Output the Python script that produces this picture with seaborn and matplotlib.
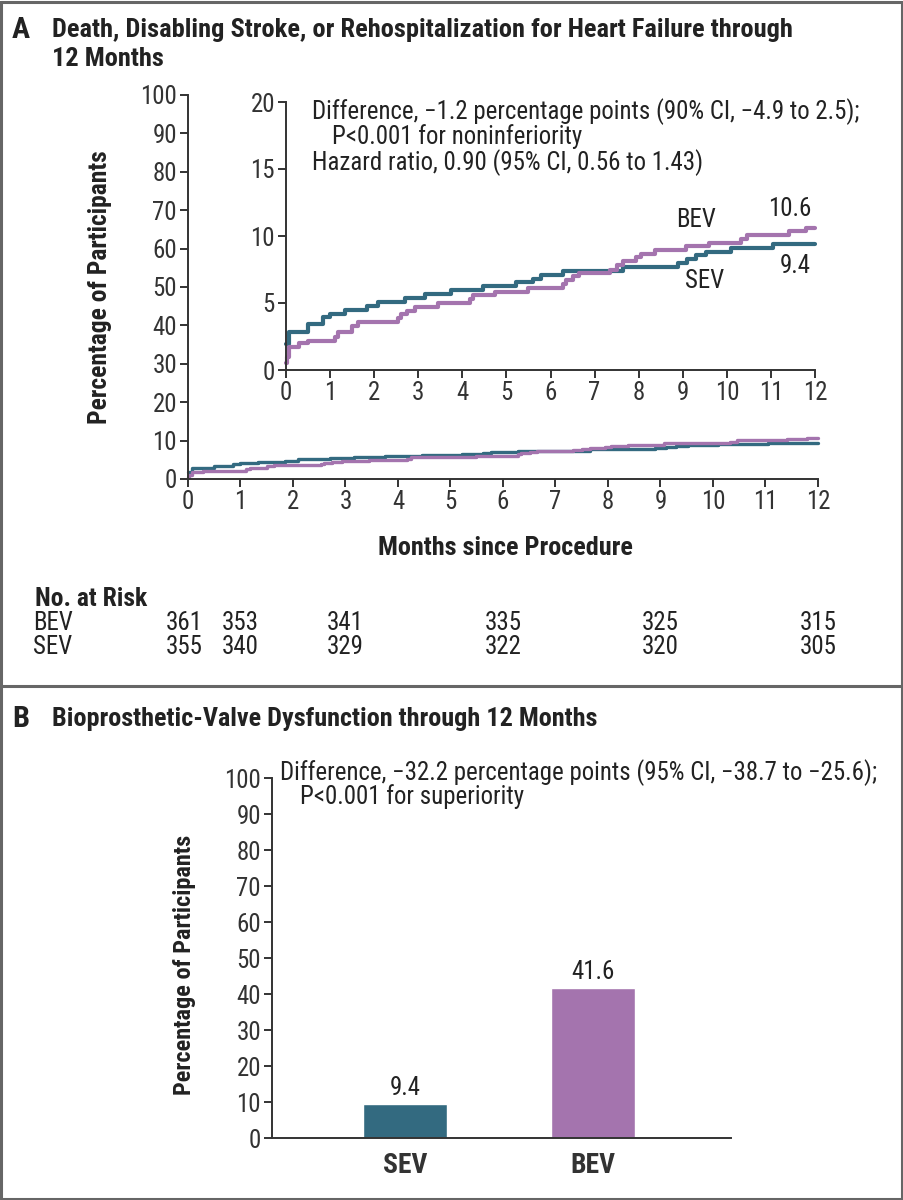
import matplotlib
matplotlib.use("Agg")
import matplotlib.pyplot as plt
import seaborn as sns
import pandas as pd
from matplotlib.lines import Line2D

# ---------------- data ----------------
sev_months = [0, 0.07, 0.5, 0.85, 1.0, 1.34, 1.84, 2.09, 2.7, 3.16, 3.75, 4.46, 5.22,
              5.61, 5.78, 6.29, 7.65, 8.9, 9.1, 9.29, 9.52, 10.1, 11.04, 12]
sev_pct = [1.95, 2.8, 3.4, 3.95, 4.2, 4.5, 4.8, 5.1, 5.4, 5.65, 5.95, 6.25, 6.55,
           6.8, 7.1, 7.4, 7.7, 8.0, 8.3, 8.55, 8.8, 9.1, 9.4, 9.4]
bev_months = [0, 0.02, 0.07, 0.29, 0.5, 1.11, 1.19, 1.5, 1.63, 2.54, 2.6, 2.75, 2.93,
              3.45, 4.18, 4.25, 4.74, 5.48, 6.29, 6.35, 6.52, 6.65, 7.34, 7.5, 7.65,
              7.95, 8.06, 8.38, 9.07, 9.6, 10.33, 10.46, 11.41, 11.8, 12]
bev_pct = [0.5, 1.0, 1.7, 2.0, 2.2, 2.5, 2.8, 3.3, 3.6, 3.9, 4.2, 4.4, 4.7,
           5.0, 5.3, 5.6, 5.85, 6.1, 6.4, 6.7, 7.0, 7.25, 7.5, 7.8, 8.1,
           8.4, 8.65, 8.95, 9.25, 9.5, 9.75, 10.05, 10.35, 10.6, 10.6]

risk_months = [0, 1, 3, 6, 9, 12]
risk_bev = [361, 353, 341, 335, 325, 315]
risk_sev = [355, 340, 329, 322, 320, 305]

bar_groups = ["SEV", "BEV"]
bar_values = [9.4, 41.6]

SEV_C = "#336A80"
BEV_C = "#A474AE"
AX_C = "#333333"

# ---------------- style ----------------
sns.set_theme(style="white")
plt.rcParams["font.family"] = ["Liberation Sans Narrow", "DejaVu Sans Condensed",
                               "Roboto Condensed", "Lato", "DejaVu Sans"]
plt.rcParams["axes.edgecolor"] = AX_C
plt.rcParams["xtick.color"] = AX_C
plt.rcParams["ytick.color"] = AX_C
plt.rcParams["text.color"] = "#222222"

W, H = 904, 1200
fig = plt.figure(figsize=(W / 100, H / 100), dpi=100)
fig.patch.set_facecolor("white")
renderer = fig.canvas.get_renderer()


def fx(x):
    return x / W


def fy(y):
    return 1 - y / H


def box(l, t, r, b):
    return [fx(l), fy(b), fx(r) - fx(l), fy(t) - fy(b)]


def fit_size(s, target_px, weight="normal"):
    t = fig.text(0, 0, s, fontsize=20, fontweight=weight)
    w = t.get_window_extent(renderer).width
    t.remove()
    return 20 * target_px / w


# font sizes fitted to the reference text widths
AFS = fit_size("Difference, \u22121.2 percentage points (90% CI, \u22124.9 to 2.5);", 548)
TFS = fit_size("Death, Disabling Stroke, or Rehospitalization for Heart Failure through", 738, "bold")
BFS = fit_size("Bioprosthetic-Valve Dysfunction through 12 Months", 545, "bold")
YFS = fit_size("Percentage of Participants", 272, "bold")
XFS = fit_size("Months since Procedure", 255, "bold")
NFS = fit_size("No. at Risk", 112, "bold")
TICK_FS = AFS * 1.0

km = pd.concat([
    pd.DataFrame({"month": sev_months, "pct": sev_pct, "group": "SEV"}),
    pd.DataFrame({"month": bev_months, "pct": bev_pct, "group": "BEV"}),
])
palette = {"SEV": SEV_C, "BEV": BEV_C}


def style_axes(ax):
    sns.despine(ax=ax)
    for s in ("left", "bottom"):
        ax.spines[s].set_linewidth(1.4)
        ax.spines[s].set_color(AX_C)
    ax.tick_params(axis="both", direction="out", length=6, width=1.4,
                   labelsize=TICK_FS, pad=2, left=True, bottom=True)
    ax.set_facecolor("white")


# ---------------- Panel A main ----------------
axA = fig.add_axes(box(188, 95, 818, 479))
sns.lineplot(data=km, x="month", y="pct", hue="group", palette=palette,
             estimator=None, drawstyle="steps-post", linewidth=2.4,
             legend=False, ax=axA)
axA.set_xlim(0, 12)
axA.set_ylim(0, 100)
axA.set_xticks(range(0, 13))
axA.set_yticks(range(0, 101, 10))
axA.set_xlabel("")
axA.set_ylabel("")
style_axes(axA)
for ln in axA.get_lines():
    ln.set_clip_on(False)

# ---------------- Panel A inset ----------------
axI = fig.add_axes(box(286, 102, 815, 370))
sns.lineplot(data=km, x="month", y="pct", hue="group", palette=palette,
             estimator=None, drawstyle="steps-post", linewidth=3.0,
             legend=False, ax=axI)
axI.set_xlim(0, 12)
axI.set_ylim(0, 20)
axI.set_xticks(range(0, 13))
axI.set_yticks(range(0, 21, 5))
axI.set_xlabel("")
axI.set_ylabel("")
style_axes(axI)
for ln in axI.get_lines():
    ln.set_clip_on(False)

fig.text(fx(312), fy(112), "Difference, \u22121.2 percentage points (90% CI, \u22124.9 to 2.5);",
         fontsize=AFS, va="center", ha="left")
fig.text(fx(332), fy(137), "P<0.001 for noninferiority",
         fontsize=AFS, va="center", ha="left")
fig.text(fx(312), fy(163), "Hazard ratio, 0.90 (95% CI, 0.56 to 1.43)",
         fontsize=AFS, va="center", ha="left")
fig.text(fx(696), fy(220), "BEV", fontsize=AFS, ha="center", va="center")
fig.text(fx(790), fy(209), "10.6", fontsize=AFS, ha="center", va="center")
fig.text(fx(705), fy(281), "SEV", fontsize=AFS, ha="center", va="center")
fig.text(fx(795), fy(266), "9.4", fontsize=AFS, ha="center", va="center")

# titles / labels panel A
fig.text(fx(12), fy(30), "A", fontsize=TFS * 1.15, fontweight="bold", va="center", ha="left")
fig.text(fx(52), fy(30), "Death, Disabling Stroke, or Rehospitalization for Heart Failure through",
         fontsize=TFS, fontweight="bold", va="center", ha="left")
fig.text(fx(52), fy(59), "12 Months", fontsize=TFS, fontweight="bold", va="center", ha="left")
fig.text(fx(100), fy(287), "Percentage of Participants", fontsize=YFS, fontweight="bold",
         rotation=90, va="center", ha="center")
fig.text(fx(505), fy(548), "Months since Procedure", fontsize=XFS, fontweight="bold",
         va="center", ha="center")

# number at risk
fig.text(fx(35), fy(599), "No. at Risk", fontsize=NFS, fontweight="bold", va="center", ha="left")
fig.text(fx(33), fy(623), "BEV", fontsize=AFS, va="center", ha="left")
fig.text(fx(33), fy(647), "SEV", fontsize=AFS, va="center", ha="left")
for m, b, s in zip(risk_months, risk_bev, risk_sev):
    xpix = 188 + (818 - 188) * m / 12
    if m == 0:
        xpix -= 4
    fig.text(fx(xpix), fy(623), str(b), fontsize=AFS, va="center", ha="center")
    fig.text(fx(xpix), fy(647), str(s), fontsize=AFS, va="center", ha="center")

# ---------------- Panel B ----------------
axB = fig.add_axes(box(272, 778, 731, 1138))
bars = pd.DataFrame({"group": bar_groups, "value": bar_values})
sns.barplot(data=bars, x="group", y="value", hue="group", palette=palette,
            order=bar_groups, width=0.45, legend=False, saturation=1, ax=axB)
axB.set_xlim(-0.707, 1.734)
axB.set_ylim(0, 100)
axB.set_yticks(range(0, 101, 10))
axB.set_xlabel("")
axB.set_ylabel("")
style_axes(axB)
axB.tick_params(axis="x", length=0, pad=10)
for lab in axB.get_xticklabels():
    lab.set_fontweight("bold")
    lab.set_fontsize(BFS * 1.05)
for cont in axB.containers:
    axB.bar_label(cont, labels=[f"{v.get_height():.1f}" for v in cont],
                  padding=3, fontsize=AFS)

fig.text(fx(12), fy(719), "B", fontsize=TFS * 1.15, fontweight="bold", va="center", ha="left")
fig.text(fx(52), fy(719), "Bioprosthetic-Valve Dysfunction through 12 Months",
         fontsize=BFS, fontweight="bold", va="center", ha="left")
fig.text(fx(280), fy(773), "Difference, \u221232.2 percentage points (95% CI, \u221238.7 to \u221225.6);",
         fontsize=AFS, va="center", ha="left")
fig.text(fx(300), fy(797), "P<0.001 for superiority", fontsize=AFS, va="center", ha="left")
fig.text(fx(185), fy(965), "Percentage of Participants", fontsize=YFS * 0.95, fontweight="bold",
         rotation=90, va="center", ha="center")

# ---------------- frame ----------------
FC = "#666666"
fig.add_artist(Line2D([fx(1.5), fx(902.5), fx(902.5), fx(1.5), fx(1.5)],
                      [fy(1.5), fy(1.5), fy(1198.5), fy(1198.5), fy(1.5)],
                      transform=fig.transFigure, color=FC, linewidth=2.2))
fig.add_artist(Line2D([fx(1.5), fx(902.5)], [fy(686), fy(686)],
                      transform=fig.transFigure, color=FC, linewidth=2.2))

fig.savefig("out.png", dpi=100, facecolor="white")
